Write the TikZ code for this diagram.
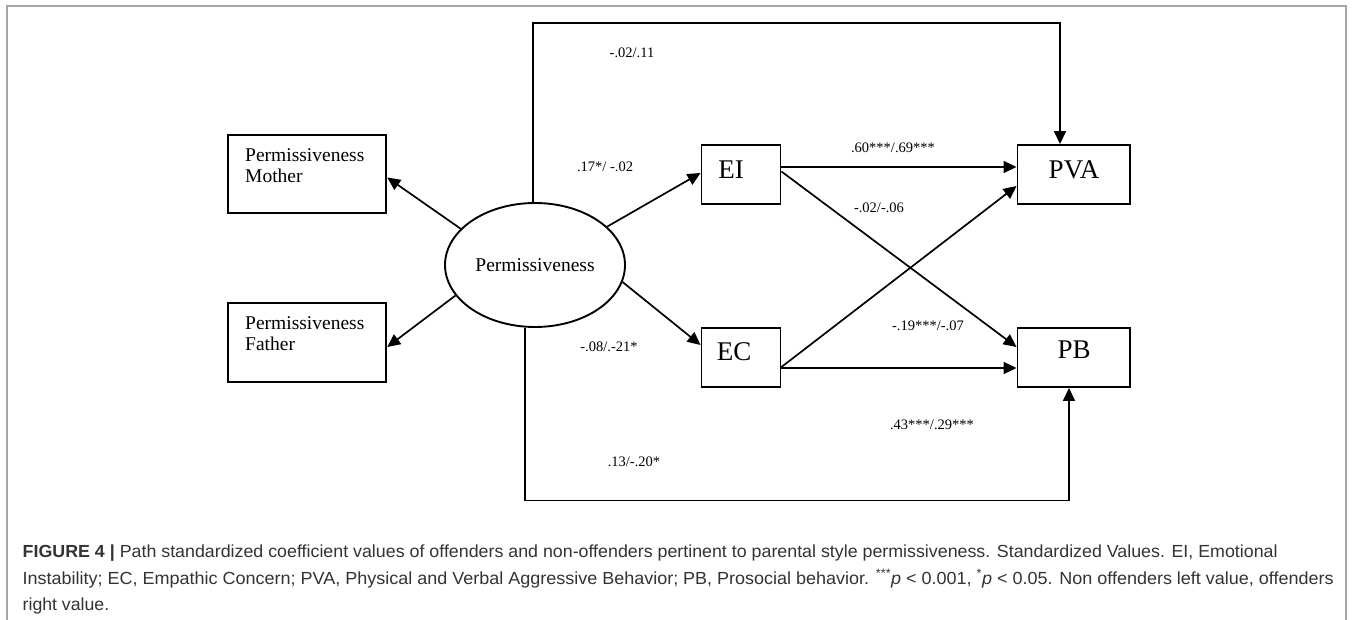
\documentclass[tikz,border=0pt]{standalone}
\usepackage{fontspec}
\setmainfont{Liberation Serif}
\newfontfamily\capfont{Liberation Sans}
\usetikzlibrary{arrows.meta,shapes.geometric}
\begin{document}
\begin{tikzpicture}[x=1pt,y=-1pt,
  box/.style={draw, line width=1.9pt, inner sep=0pt},
  arr/.style={line width=1.7pt, -{Triangle[length=13pt,width=12pt]}},
  coef/.style={font=\fontsize{14.5}{16}\selectfont, inner sep=0pt},
  big/.style={font=\fontsize{27}{30}\selectfont, inner sep=0pt},
  mid/.style={font=\fontsize{19.5}{21}\selectfont, inner sep=0pt},
  captext/.style={font=\capfont\fontsize{17.5}{22}\selectfont, text=black!80, inner sep=0pt, anchor=base west}
]
\path[fill=white] (0,0) rectangle (1357,620);
\useasboundingbox (0,0) rectangle (1357,620);
\draw[gray!70, line width=1.2pt] (7,620) -- (7,6) -- (1346,6) -- (1346,620);

% boxes
\node[box, minimum width=158pt, minimum height=78pt] (mother) at (307.3,174) {};
\node[mid, anchor=north west, align=left] (mothertxt) at (245,148) {Permissiveness\\Mother};
\node[box, minimum width=158pt, minimum height=79pt] (father) at (307.3,342.5) {};
\node[mid, anchor=north west, align=left] (fathertxt) at (245,316) {Permissiveness\\Father};

\node[draw, ellipse, line width=1.9pt, minimum width=180pt, minimum height=124pt, inner sep=0pt, font=\fontsize{19.5}{21}\selectfont] (perm) at (535,265) {Permissiveness};

\node[box, minimum width=79pt, minimum height=59pt] (EI) at (741,174.5) {};
\node[big] (EItxt) at (731,170) {EI};
\node[box, minimum width=79pt, minimum height=59pt] (EC) at (741,357.5) {};
\node[big] (ECtxt) at (734,352) {EC};
\node[box, minimum width=112.5pt, minimum height=59pt] (PVA) at (1073.75,174.5) {};
\node[big] (PVAtxt) at (1074,170) {PVA};
\node[box, minimum width=112.5pt, minimum height=59pt] (PB) at (1073.75,357.5) {};
\node[big] (PBtxt) at (1074,350) {PB};

% connectors
\draw[arr] (perm.154) -- ([yshift=-3.5pt]mother.east);
\draw[arr] (perm.201) -- ([yshift=-4.5pt]father.east);
\draw[arr] (perm.28) -- ([yshift=1.5pt]EI.west);
\draw[arr] (perm.-11) -- ([yshift=12.5pt]EC.west);
\draw[arr] (perm.92) -- ++(0,-179) -| ([xshift=-13.75pt]PVA.north);
\draw[arr] (perm.261) -- ++(0,172.8) -| ([xshift=-4.75pt]PB.south);
\draw[arr] ([yshift=7.5pt]EI.east) -- ([yshift=7.5pt]PVA.west);
\draw[arr] ([yshift=3pt]EI.east) -- ([yshift=10.5pt]PB.west);
\draw[arr] ([yshift=-9.5pt]EC.east) -- ([yshift=-11.5pt]PVA.west);
\draw[arr] ([yshift=-10.5pt]EC.east) -- ([yshift=-10.5pt]PB.west);

% coefficients
\node[coef] (c1) at (632,53) {-.02/.11};
\node[coef] (c2) at (605,167) {.17*/ -.02};
\node[coef] (c3) at (893,148) {.60***/.69***};
\node[coef] (c4) at (879,208) {-.02/-.06};
\node[coef] (c5) at (928,326) {-.19***/-.07};
\node[coef] (c6) at (609,347) {-.08/.-21*};
\node[coef] (c7) at (932,425) {.43***/.29***};
\node[coef] (c8) at (634,462) {.13/-.20*};

% caption
\node[captext] (cap1) at (22.5,557) {\resizebox{1255pt}{\height}{\textbf{FIGURE 4 |} Path standardized coefficient values of offenders and non-offenders pertinent to parental style permissiveness. Standardized Values. EI, Emotional}};
\node[captext] (cap2) at (22.5,584) {\resizebox{1311pt}{\height}{Instability; EC, Empathic Concern; PVA, Physical and Verbal Aggressive Behavior; PB, Prosocial behavior. \textsuperscript{***}\textit{p} < 0.001, \textsuperscript{*}\textit{p} < 0.05. Non offenders left value, offenders}};
\node[captext] (cap3) at (22.5,610) {\resizebox{86.5pt}{\height}{right value.}};
\end{tikzpicture}
\end{document}
